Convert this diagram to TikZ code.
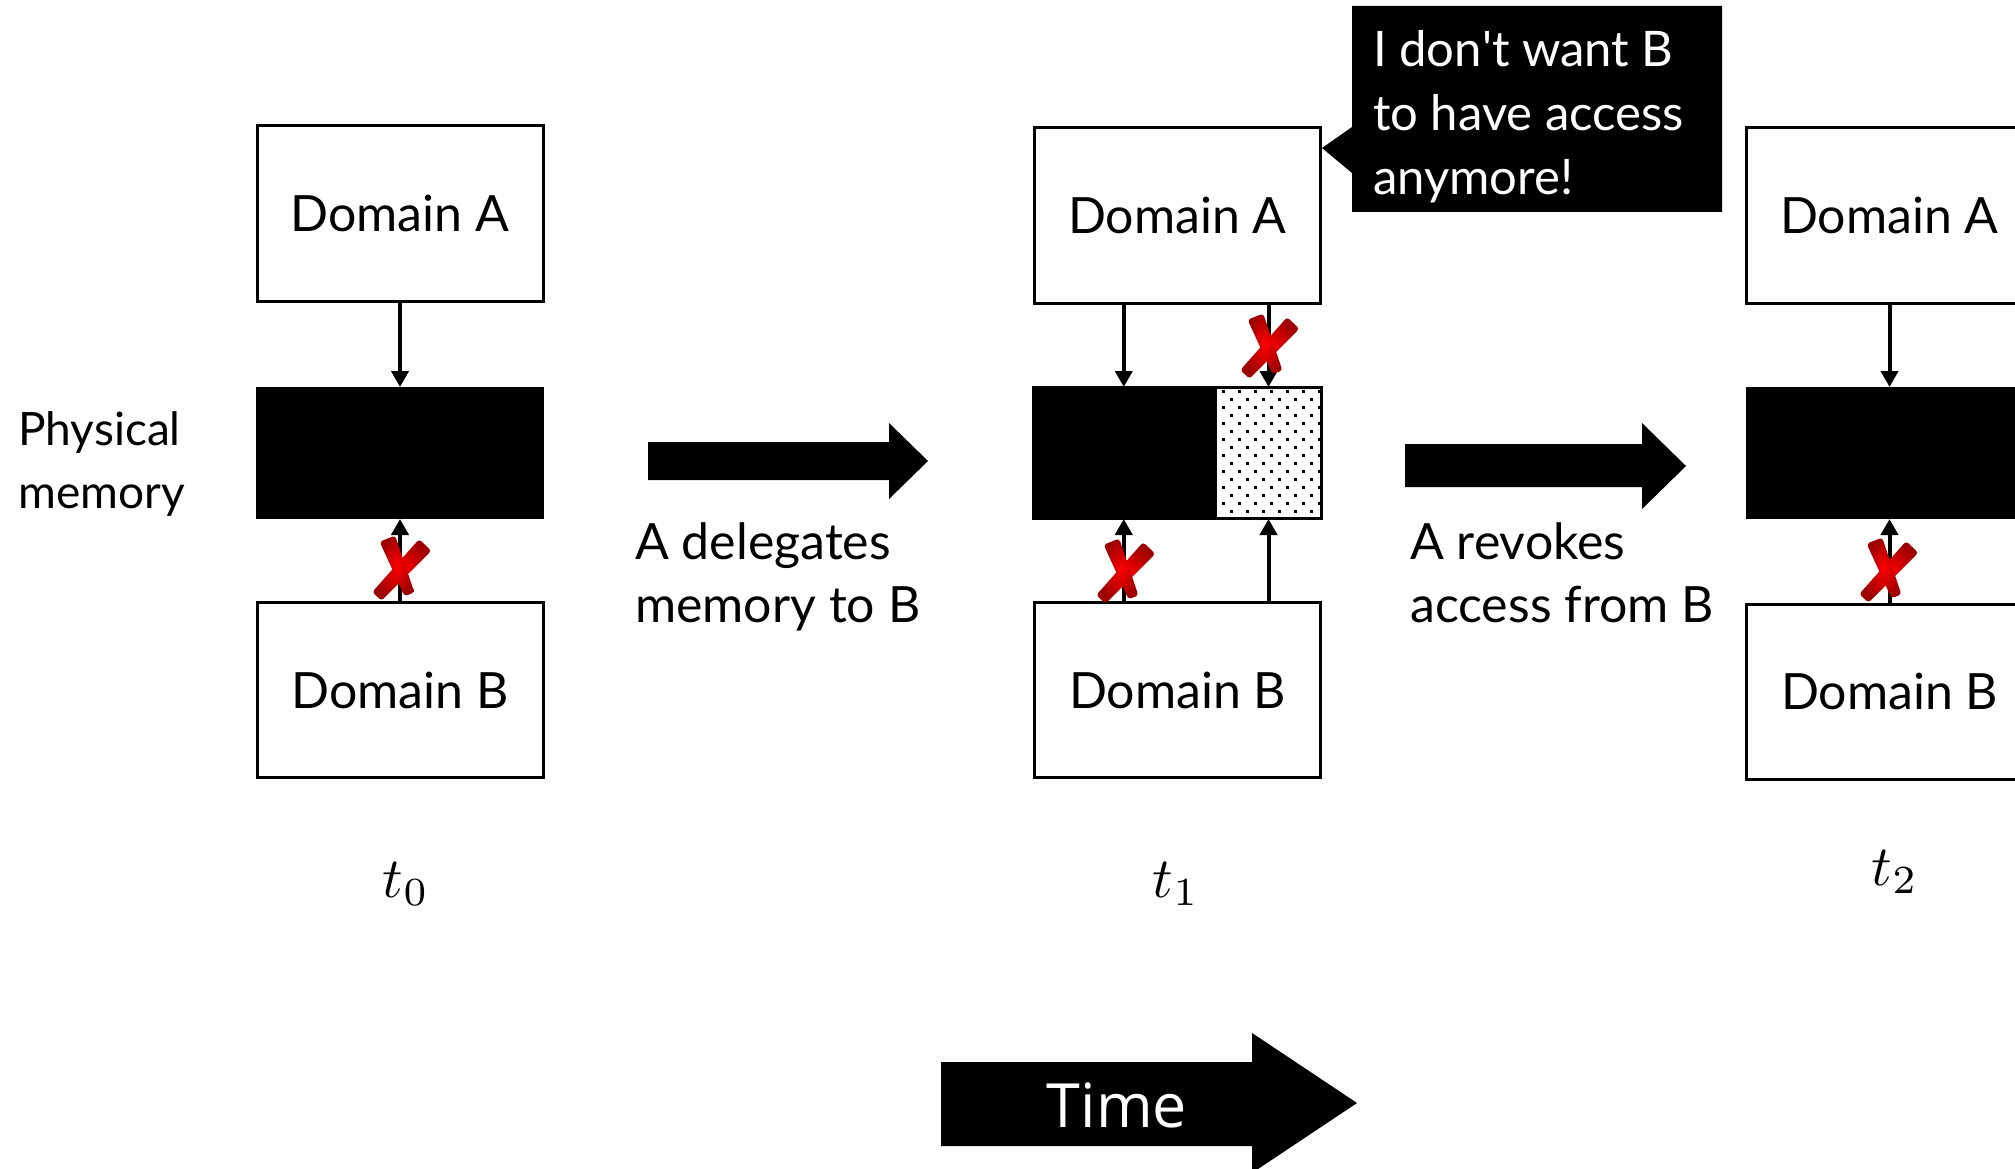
\documentclass[tikz,border=0pt]{standalone}
\usepackage{fontspec}
\setmainfont{Lato}
\newfontfamily\timefont{Open Sans}
\usetikzlibrary{arrows.meta,calc}

% red brush-stroke cross drawn over a blocked access arrow
\newcommand\crossmark[1]{%
  \begin{scope}[shift={#1}, scale=1.05]
    \shade[inner color=red, outer color=red!62!black, rounded corners=3pt]
      (-17.6,32.1) -- (-26.4,23.9) -- (18.2,-26.5) -- (29.8,-15.5) -- cycle;
    \shade[inner color=red, outer color=red!62!black, rounded corners=3pt]
      (-4.6,-29.9) -- (-19.4,-24.1) -- (4.3,27.8) -- (13.7,24.2) -- cycle;
  \end{scope}}

% time-step label, math set at normal size and enlarged
\newcommand\tstep[1]{\scalebox{5.7}{$t_{#1}$}}

\begin{document}
\begin{tikzpicture}[x=1pt,y=-1pt,
  box/.style={draw, line width=3pt, minimum width=286pt, minimum height=175pt,
    inner sep=0pt, font=\fontsize{50}{60}\selectfont},
  mem/.style={draw, line width=2pt, fill=black, minimum width=286pt,
    minimum height=130pt, inner sep=0pt},
  acc/.style={line width=4pt, -{Triangle[width=17pt,length=16pt]}},
  bigarrow/.style={fill=black},
  lbl/.style={align=left, inner sep=0pt, anchor=base west,
    font=\fontsize{50}{63}\selectfont},
  tlabel/.style={inner sep=0pt, anchor=base}]

\useasboundingbox (0,0) rectangle (2015,1169);
\clip (0,0) rectangle (2015,1169);

% ---- state t0 ----
\node[box] (A1) at (400,213.5) {Domain A};
\node[mem] (M1) at (400,453) {};
\node[box] (B1) at (400,690) {Domain B};
\draw[acc] (A1.south) -- (M1.north);
\draw[acc] (B1.north) -- (M1.south);
\crossmark{(400,567)}

% multi-line labels are placed by the baseline of their last line
\node[lbl, font=\fontsize{46}{63}\selectfont] (phys) at (18,508) {Physical\\memory};
\node[tlabel] (t0) at (406,897) {\tstep{0}};

% ---- transition: delegation ----
\fill[bigarrow] (648,442) -- (889,442) -- (889,423) -- (928,461) -- (889,499)
  -- (889,480) -- (648,480) -- cycle;
\node[lbl] (deleg) at (635,622) {A delegates\\memory to B};

% ---- state t1 ----
\node[box] (A2) at (1177.5,215.5) {Domain A};
\node[draw, line width=2pt, minimum width=287pt, minimum height=130pt,
  inner sep=0pt] (M2) at (1177.5,453) {};
\node[box] (B2) at (1177.5,690) {Domain B};
\coordinate (split) at ($(M2.south west)!.6376!(M2.south east)$);
\fill (M2.north west) rectangle (split);
\begin{scope}
  \clip (split) rectangle (M2.north east);
  \foreach \x in {1222,1238,...,1326}
    \foreach \y in {390,406,...,526} {
      \fill (\x,\y) rectangle ++(2.6,2.6);
      \fill (\x+8,\y+8) rectangle ++(2.6,2.6);
    }
\end{scope}
\draw[line width=2pt] (M2.north west) rectangle (M2.south east);
\draw[acc] ($(A2.south west)!.314!(A2.south east)$) -- ($(M2.north west)!.314!(M2.north east)$);
\draw[acc] ($(A2.south west)!.815!(A2.south east)$) -- ($(M2.north west)!.815!(M2.north east)$);
\draw[acc] ($(B2.north west)!.314!(B2.north east)$) -- ($(M2.south west)!.314!(M2.south east)$);
\draw[acc] ($(B2.north west)!.815!(B2.north east)$) -- ($(M2.south west)!.815!(M2.south east)$);
\crossmark{(1268,345)}
\crossmark{(1124,570)}
\node[tlabel] (t1) at (1176,897) {\tstep{1}};

% speech bubble of domain A
\fill (1352,6) -- (1722,6) -- (1722,212) -- (1352,212) -- (1352,173)
  -- (A2.east |- 0,148) -- (1352,127) -- cycle;
\node[lbl, text=white, font=\fontsize{49}{64}\selectfont] (say) at (1373,195)
  {I don\textquotesingle t want B\\to have access\\anymore!};

% ---- transition: revocation ----
\fill[bigarrow] (1405,444) -- (1642,444) -- (1642,423) -- (1686,466) -- (1642,509)
  -- (1642,487) -- (1405,487) -- cycle;
\node[lbl] (revoke) at (1410,622) {A revokes\\access from B};

% ---- state t2 ----
\node[box] (A3) at (1889.5,215.5) {Domain A};
\node[mem] (M3) at (1889.5,453) {};
\node[box] (B3) at (1889.5,691.5) {Domain B};
\draw[acc] (A3.south) -- (M3.north);
\draw[acc] (B3.north) -- (M3.south);
\crossmark{(1887,569)}
\node[tlabel] (t2) at (1895,885) {\tstep{2}};

% ---- time axis ----
\fill[bigarrow] (941,1062) -- (1252,1062) -- (1252,1033) -- (1357,1103)
  -- (1252,1173) -- (1252,1146) -- (941,1146) -- cycle;
\node[inner sep=0pt, anchor=base, text=white, font=\timefont\fontsize{61}{70}\selectfont]
  (time) at (1117,1127) {Time};
\end{tikzpicture}
\end{document}
